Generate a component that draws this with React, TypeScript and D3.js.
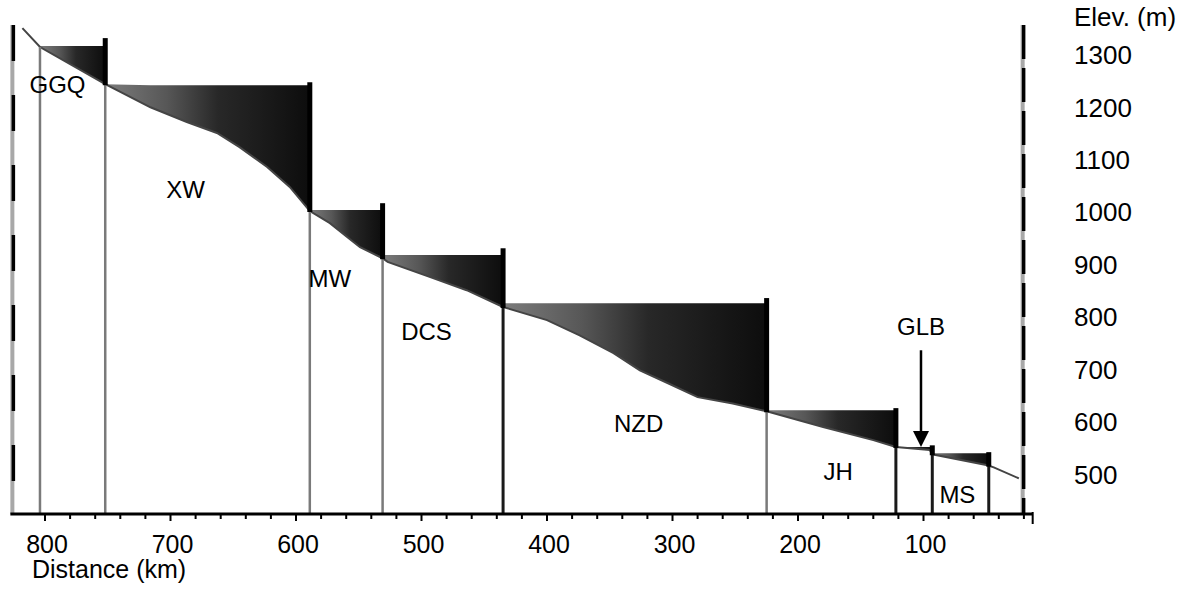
import * as d3 from 'd3';
import React, { useRef, useEffect } from 'react';

const W = 1179;
const H = 594;
const FONT = 'Liberation Sans, Arial, Helvetica, sans-serif';

// hydropower stations, upstream to downstream
const stations = ['GGQ', 'XW', 'MW', 'DCS', 'NZD', 'JH', 'GLB', 'MS'];
const damKm = [752, 589, 531, 435, 225, 122, 93, 48];
const poolElev = [1317, 1242, 1004, 918, 826, 622, 552, 540];
const crestElev = [1332, 1248, 1017, 931, 836, 626, 555, 542];
const upstreamKm = 804;

// label anchors (km, m)
const labelKm = [790, 688, 573, 496, 327, 168, 102, 73];
const labelElev = [1227, 1027, 857, 756, 580, 489, 765, 445];

// river bed profile
const profileKm = [818, 804, 752, 716, 687, 663, 645, 623, 605, 589, 573, 559, 549, 531, 527, 493, 464, 435, 400, 374, 347, 326, 304, 280, 252, 225, 180, 140, 122, 95, 93, 49, 44, 24];
const profileElev = [1351, 1315, 1244, 1200, 1172, 1151, 1124, 1086, 1048, 1002, 979, 952, 933, 912, 905, 876, 851, 819, 794, 765, 731, 698, 674, 647, 635, 620, 590, 565, 552, 546, 538, 517, 513, 492];

const xLabels = [800, 700, 600, 500, 400, 300, 200, 100];
const xMinor = d3.range(800, 19, -20);
const yLabels = [1300, 1200, 1100, 1000, 900, 800, 700, 600, 500];

const frameKm = [826, 21];
const axisEndKm = 13;
const elevRange = [424, 1357];

const App = () => {
  const ref = useRef<SVGSVGElement>(null);

  useEffect(() => {
    const svg = d3.select(ref.current);
    svg.selectAll('*').remove();

    const x = d3.scaleLinear().domain([800, 0]).range([45, 1049]);
    const y = d3.scaleLinear().domain(elevRange).range([514, 25]);
    const bed = d3.scaleLinear().domain(profileKm).range(profileElev);
    const base = y(elevRange[0]);
    const top = y(elevRange[1]);

    const defs = svg.append('defs');
    const grad = defs.append('linearGradient')
      .attr('id', 'pool')
      .attr('x1', 0).attr('x2', 1).attr('y1', 0).attr('y2', 0);
    [[0, '#7c7c7c'], [0.3, '#575757'], [0.55, '#282828'], [1, '#0d0d0d']].forEach(([o, c]) => {
      grad.append('stop').attr('offset', o as number).attr('stop-color', c as string);
    });

    // reservoir fills
    stations.forEach((name, i) => {
      const from = i === 0 ? upstreamKm : damKm[i - 1];
      const to = damKm[i];
      const kms = [from, ...profileKm.filter((k) => k < from && k > to), to];
      const area = d3.area<number>()
        .x((k) => x(k))
        .y0((k) => y(bed(k)))
        .y1((k) => y(Math.max(poolElev[i], bed(k))));
      svg.append('path')
        .attr('d', area(kms))
        .attr('fill', 'url(#pool)');
    });

    // river bed
    const line = d3.line<number>().x((k) => x(k)).y((k) => y(bed(k)));
    svg.append('path')
      .attr('d', line(profileKm))
      .attr('fill', 'none')
      .attr('stroke', '#444')
      .attr('stroke-width', 2);

    // station boundaries down to the axis
    const darkFoot = new Set(['DCS', 'JH', 'GLB', 'MS']);
    const feet = [{ km: upstreamKm, dark: false }, ...damKm.map((km, i) => ({ km, dark: darkFoot.has(stations[i]) }))];
    svg.selectAll('line.foot')
      .data(feet)
      .enter()
      .append('line')
      .attr('class', 'foot')
      .attr('x1', (d) => x(d.km))
      .attr('x2', (d) => x(d.km))
      .attr('y1', (d) => y(bed(d.km)))
      .attr('y2', base)
      .attr('stroke', (d) => (d.dark ? '#1a1a1a' : '#7a7a7a'))
      .attr('stroke-width', (d) => (d.dark ? 3 : 2.5));

    // dams
    svg.selectAll('line.dam')
      .data(damKm)
      .enter()
      .append('line')
      .attr('class', 'dam')
      .attr('x1', (d) => x(d))
      .attr('x2', (d) => x(d))
      .attr('y1', (d, i) => y(crestElev[i]))
      .attr('y2', (d) => y(bed(d)) + 1)
      .attr('stroke', '#000')
      .attr('stroke-width', 5);

    // frame sides
    frameKm.forEach((km, i) => {
      svg.append('line')
        .attr('x1', x(km)).attr('x2', x(km))
        .attr('y1', top).attr('y2', base)
        .attr('stroke', '#a8a8a8')
        .attr('stroke-width', 4);
      svg.append('line')
        .attr('x1', x(km) + 1).attr('x2', x(km) + 1)
        .attr('y1', top).attr('y2', base)
        .attr('stroke', '#000')
        .attr('stroke-width', 3.5)
        .attr('stroke-dasharray', i === 0 ? '36 34' : '34 9');
    });

    // x axis
    svg.append('line')
      .attr('x1', x(frameKm[0]) - 2).attr('x2', x(axisEndKm))
      .attr('y1', base).attr('y2', base)
      .attr('stroke', '#000')
      .attr('stroke-width', 3);
    svg.append('line')
      .attr('x1', x(axisEndKm)).attr('x2', x(axisEndKm))
      .attr('y1', base - 2).attr('y2', base + 10)
      .attr('stroke', '#000')
      .attr('stroke-width', 2);
    svg.selectAll('line.tick')
      .data(xMinor)
      .enter()
      .append('line')
      .attr('class', 'tick')
      .attr('x1', (d) => x(d)).attr('x2', (d) => x(d))
      .attr('y1', base)
      .attr('y2', (d) => base + (d % 100 === 0 ? 7 : 5))
      .attr('stroke', '#000')
      .attr('stroke-width', 2);

    svg.selectAll('text.xl')
      .data(xLabels)
      .enter()
      .append('text')
      .attr('class', 'xl')
      .attr('x', (d) => x(d) + 2)
      .attr('y', 553)
      .attr('text-anchor', 'middle')
      .attr('font-family', FONT)
      .attr('font-size', 25)
      .text((d) => d);

    svg.append('text')
      .attr('x', 32)
      .attr('y', 578)
      .attr('font-family', FONT)
      .attr('font-size', 25)
      .text('Distance (km)');

    // elevation labels
    svg.selectAll('text.yl')
      .data(yLabels)
      .enter()
      .append('text')
      .attr('class', 'yl')
      .attr('x', 1074)
      .attr('y', (d) => y(d))
      .attr('dy', '0.36em')
      .attr('font-family', FONT)
      .attr('font-size', 26)
      .text((d) => d);

    svg.append('text')
      .attr('x', 1074)
      .attr('y', 26)
      .attr('font-family', FONT)
      .attr('font-size', 26)
      .text('Elev. (m)');

    // station labels
    svg.selectAll('text.st')
      .data(stations)
      .enter()
      .append('text')
      .attr('class', 'st')
      .attr('x', (d, i) => x(labelKm[i]))
      .attr('y', (d, i) => y(labelElev[i]))
      .attr('text-anchor', 'middle')
      .attr('font-family', FONT)
      .attr('font-size', 24)
      .text((d) => d);

    // arrow to GLB
    const g = stations.indexOf('GLB');
    const ax = x(labelKm[g]);
    const ay0 = y(labelElev[g]) + 15;
    const ay1 = y(poolElev[g]);
    svg.append('line')
      .attr('x1', ax).attr('x2', ax)
      .attr('y1', ay0).attr('y2', ay1 - 12)
      .attr('stroke', '#000')
      .attr('stroke-width', 2.5);
    svg.append('path')
      .attr('d', `M${ax - 8},${ay1 - 16}L${ax + 8},${ay1 - 16}L${ax},${ay1}Z`)
      .attr('fill', '#000');
  }, []);

  return (
    <svg ref={ref} width={W} height={H} style={{ position: 'absolute', left: 0, top: 0, background: '#fff' }} />
  );
};

export default App;
